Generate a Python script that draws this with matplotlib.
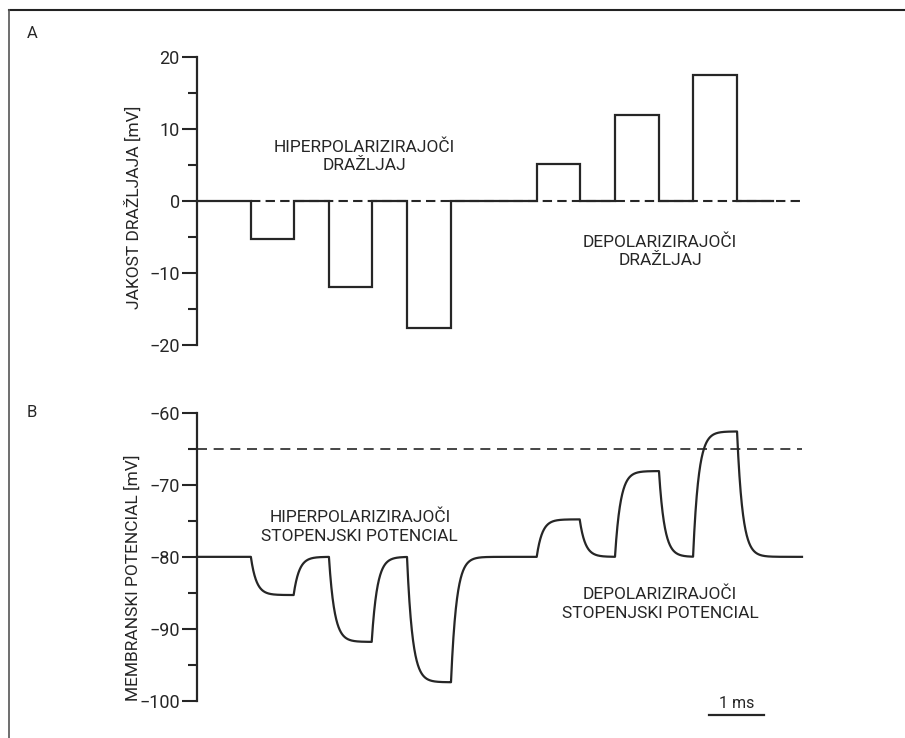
import numpy as np
import matplotlib.pyplot as plt
from matplotlib.lines import Line2D

# stimulus pulses (ms, mV)
pulse_on = [0.98, 2.40, 3.82, 6.18, 7.60, 9.02]
pulse_off = [1.76, 3.18, 4.62, 6.96, 8.40, 9.82]
stim_amp = [-5.3, -12.0, -17.6, 5.2, 11.9, 17.5]
stim_end = 10.47
trace_end = 11.0

# membrane response
rest_mv = -80.0
plateau_mv = [-85.3, -91.8, -97.4, -74.8, -68.1, -62.6]
threshold_mv = -65.0
tau_ms = 0.1

stim_ticks = [-20, -10, 0, 10, 20]
stim_minor = [-15, -5, 5, 15]
mem_ticks = [-100, -90, -80, -70, -60]
mem_minor = [-95, -85, -75, -65]

ink = "#262626"
plt.rcParams["font.family"] = ["Roboto", "DejaVu Sans"]
plt.rcParams["axes.unicode_minus"] = True

W, H = 905, 738
fig = plt.figure(figsize=(W / 100, H / 100), dpi=100)

def fx(px):
    return px / W

def fy(py):
    return 1 - py / H

left, right = 197, 197 + 55 * 11.5
axA = fig.add_axes([fx(left), fy(345), fx(right - left), (345 - 57) / H])
axB = fig.add_axes([fx(left), fy(701), fx(right - left), (701 - 412.7) / H])

for ax in (axA, axB):
    ax.set_xlim(0, 11.5)
    for s in ("top", "right", "bottom"):
        ax.spines[s].set_visible(False)
    ax.spines["left"].set_linewidth(1.6)
    ax.spines["left"].set_color(ink)
    ax.set_xticks([])
    ax.tick_params(axis="y", which="major", length=11, width=1.5, color=ink,
                   labelsize=13, labelcolor=ink, pad=1.5)
    ax.tick_params(axis="y", which="minor", length=6.5, width=1.5, color=ink)
    ax.patch.set_alpha(0)

# panel A: step stimulus
xs, ys = [0.0], [0.0]
for on, off, a in zip(pulse_on, pulse_off, stim_amp):
    xs += [on, on, off, off]
    ys += [0.0, a, a, 0.0]
xs.append(stim_end)
ys.append(0.0)
axA.plot([pulse_on[0], trace_end], [0, 0], color=ink, lw=1.5,
         linestyle=(0, (4.5, 2.5)), clip_on=False)
axA.plot(xs, ys, color=ink, lw=1.6, clip_on=False, solid_joinstyle="miter")
axA.set_ylim(-20, 20)
axA.set_yticks(stim_ticks)
axA.set_yticks(stim_minor, minor=True)
axA.text(3.04, 6.2, "HIPERPOLARIZIRAJOČI\nDRAŽLJAJ", ha="center", va="center",
         fontsize=12.5, color=ink, linespacing=1.3)
axA.text(8.42, -7.0, "DEPOLARIZIRAJOČI\nDRAŽLJAJ", ha="center", va="center",
         fontsize=12.5, color=ink, linespacing=1.3)

# panel B: RC-filtered membrane potential
t = np.linspace(0, trace_end, 3000)
target = np.full_like(t, rest_mv)
for on, off, p in zip(pulse_on, pulse_off, plateau_mv):
    target[(t >= on) & (t < off)] = p
v = np.empty_like(t)
v[0] = rest_mv
dt = t[1] - t[0]
k = np.exp(-dt / tau_ms)
for i in range(1, len(t)):
    v[i] = target[i] + (v[i - 1] - target[i]) * k
axB.plot([0, trace_end], [threshold_mv, threshold_mv], color=ink, lw=1.2,
         linestyle=(0, (6, 4)), clip_on=False)
axB.plot(t, v, color=ink, lw=1.6, clip_on=False)
axB.set_ylim(-100, -60)
axB.set_yticks(mem_ticks)
axB.set_yticks(mem_minor, minor=True)
axB.text(2.96, -75.8, "HIPERPOLARIZIRAJOČI\nSTOPENJSKI POTENCIAL", ha="center",
         va="center", fontsize=12.5, color=ink, linespacing=1.3)
axB.text(8.42, -86.5, "DEPOLARIZIRAJOČI\nSTOPENJSKI POTENCIAL", ha="center",
         va="center", fontsize=12.5, color=ink, linespacing=1.3)

# 1 ms scale bar
axB.plot([9.31, 10.31], [-102.0, -102.0], color=ink, lw=1.6, clip_on=False)
axB.text(9.81, -100.3, "1 ms", ha="center", va="center", fontsize=11.5, color=ink)

# axis titles and panel letters
fig.text(fx(133), fy(207), "JAKOST DRAŽLJAJA [mV]", rotation=90, ha="center",
         va="center", fontsize=12.5, color=ink)
fig.text(fx(133), fy(578), "MEMBRANSKI POTENCIAL [mV]", rotation=90, ha="center",
         va="center", fontsize=12.5, color=ink)
fig.text(fx(32), fy(33), "A", ha="center", va="center", fontsize=12, color=ink)
fig.text(fx(32), fy(412), "B", ha="center", va="center", fontsize=12, color=ink)

# frame (top and left edge only)
fig.add_artist(Line2D([fx(9), 1], [fy(10), fy(10)], color="#222222", lw=1.5))
fig.add_artist(Line2D([fx(9), fx(9)], [fy(10), 0], color="#555555", lw=1.2))

fig.savefig("out.png", dpi=100)
